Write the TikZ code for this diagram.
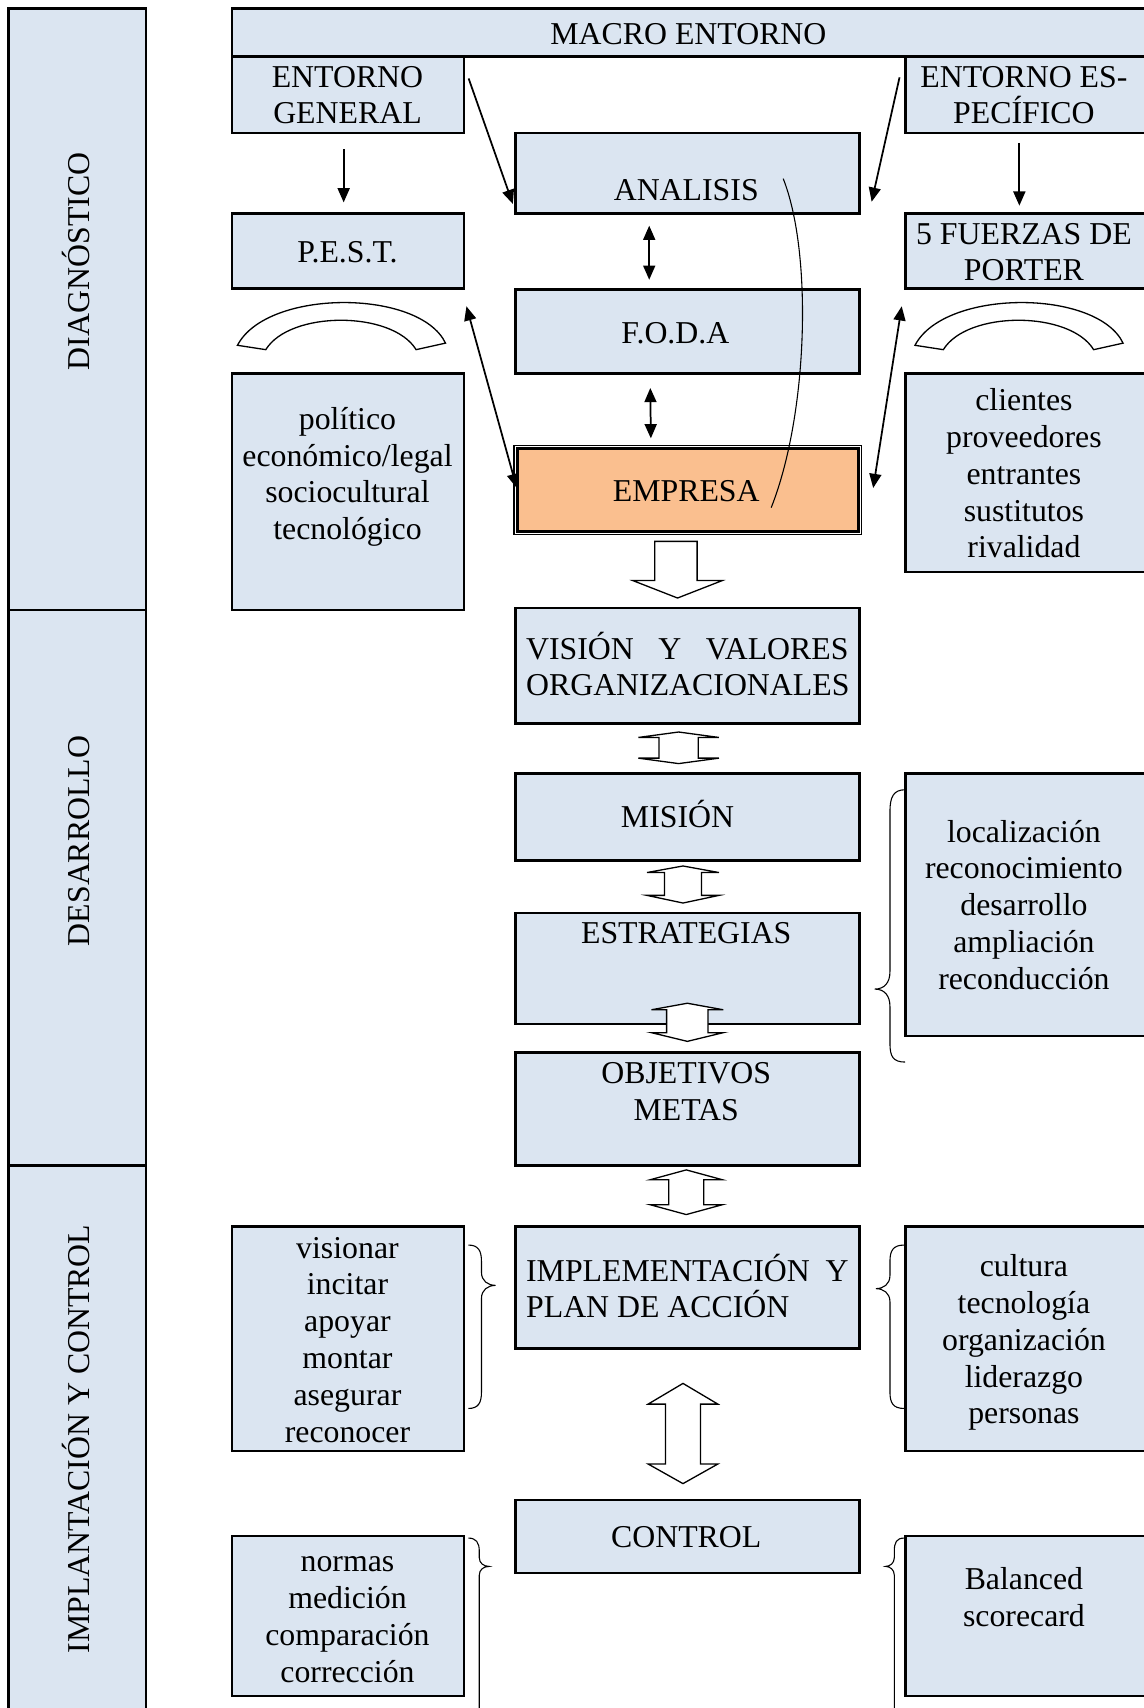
\documentclass[tikz,border=0pt]{standalone}
\usepackage{fontspec}
\setmainfont{Liberation Serif}
\usetikzlibrary{arrows.meta,fit,calc}
\definecolor{boxblue}{HTML}{DBE5F1}
\definecolor{empresaor}{HTML}{FABF8F}
\tikzset{
 box/.style={draw=black, line width=1.2pt, fill=boxblue, inner sep=0pt},
 txt/.style={font=\fontsize{14.6}{16.9}\selectfont, align=center, inner sep=0pt, anchor=base},
 rtxt/.style={font=\fontsize{14.6}{16.9}\selectfont, inner sep=0pt, rotate=90, text height=10pt, text depth=0pt},
 arr/.style={line width=0.8pt, -{Triangle[length=6.5pt,width=5.5pt]}},
 darr/.style={line width=0.8pt, {Triangle[length=6.5pt,width=5.5pt]}-{Triangle[length=6.5pt,width=5.5pt]}},
 blk/.style={draw=black, line width=0.6pt, fill=white, line join=miter},
 brc/.style={draw=black, line width=0.5pt},
}
\newcommand\dblarr[7]{\draw[blk] (#1,#2) -- ({#1+#6},#3) -- ({#1+#7},#3) -- ({#1+#7},#4) -- ({#1+#6},#4) -- (#1,#5) -- ({#1-#6},#4) -- ({#1-#7},#4) -- ({#1-#7},#3) -- ({#1-#6},#3) -- cycle;}

\begin{document}
\begin{tikzpicture}[x=0.5pt,y=-0.5pt]
\useasboundingbox (0,0) rectangle (1050,1568);

% left column
\node[box, fit={(8,8) (134,560)}] (diag) {};
\node[box, fit={(8,560) (134,1070)}] (desa) {};
\node[box, fit={(8,1070) (134,1590)}] (implc) {};
\node[rtxt] (diag-t) at (72,240) {DIAGNÓSTICO};
\node[rtxt] (desa-t) at (72,772) {DESARROLLO};
\node[rtxt] (implc-t) at (72,1321) {IMPLANTACIÓN Y CONTROL};

% top boxes
\node[box, fit={(213,8) (1070,52)}] (macro) {};
\node[box, fit={(213,52) (426,122)}] (eg) {};
\node[box, fit={(831,52) (1070,122)}] (ee) {};
\node[box, fit={(473,122) (789,196)}] (analisis) {};
\node[box, fit={(213,196) (426,265)}] (pest) {};
\node[box, fit={(831,196) (1070,265)}] (porter) {};
\node[box, fit={(473,266) (789,343)}] (foda) {};
\node[box, fit={(213,343) (426,560)}] (politico) {};
\node[box, fit={(831,343) (1070,525)}] (clientes) {};
\node[draw=black, line width=0.6pt, fill=white, inner sep=0pt, fit={(472,409) (791,491)}] (empresa) {};
\node[draw=black, line width=1.2pt, fill=empresaor, inner sep=0pt, fit={(475,412) (788,488)}] (empresain) {};

% (base anchor of a multi-line node = baseline of its last line)
\node[txt] (macro-t) at (632,41) {MACRO ENTORNO};
\node[txt] (eg-t) at (319,113.8) {ENTORNO\\GENERAL};
\node[txt] (ee-t) at (940,113.8) {ENTORNO ES-\\PECÍFICO};
\node[txt] (analisis-t) at (630,184) {ANALISIS};
\node[txt] (pest-t) at (319,241) {P.E.S.T.};
\node[txt] (porter-t) at (940,257.8) {5 FUERZAS DE\\PORTER};
\node[txt] (foda-t) at (620,315) {F.O.D.A};
\node[txt] (politico-t) at (319,495.4) {político\\económico/legal\\sociocultural\\tecnológico};
\node[txt] (clientes-t) at (940,512.2) {clientes\\proveedores\\entrantes\\sustitutos\\rivalidad};
\node[txt] (empresa-t) at (630,460) {EMPRESA};

% arcs
\draw[blk] (218,317) .. controls (245,265) and (385,265) .. (409,315) -- (382,321) .. controls (360,285) and (266,285) .. (244,321) -- cycle;
\draw[blk] (840,317) .. controls (867,265) and (1007,265) .. (1031,315) -- (1004,321) .. controls (982,285) and (888,285) .. (866,321) -- cycle;

% arrows top
\draw[arr] ([shift={(3,-15)}]eg.east) -- ([shift={(-1,-10)}]analisis.south west);
\draw[arr] ([shift={(-4,-16)}]ee.west) -- ([shift={(10,-12)}]analisis.south east);
\draw[arr] ([shift={(-4,14)}]eg.south) -- ([shift={(-4,-9)}]pest.north);
\draw[arr] ([shift={(106,8)}]ee.south west) -- ([shift={(106,-6)}]porter.north west);
\draw[darr] ([shift={(-35,10)}]analisis.south) -- ([shift={(-35,-8)}]foda.north);
\draw[darr] ([shift={(-34,12)}]foda.south) -- ([shift={(-34,-6)}]empresa.north);
\draw[darr] ([shift={(1,15)}]pest.south east) -- ([shift={(3,-2)}]empresa.west);
\draw[darr] ([shift={(-2,15)}]porter.south west) -- ([shift={(10,-2)}]empresa.east);
\draw[line width=0.5pt] ([shift={(88,5)}]analisis.center) .. controls (746,232) and (742,380) .. ([shift={(76.5,16)}]empresa.center);

% middle column
\node[box, fit={(473,558) (789,664)}] (vision) {};
\node[box, fit={(473,710) (789,790)}] (mision) {};
\node[box, fit={(473,838) (789,940)}] (estrategias) {};
\node[box, fit={(473,966) (789,1070)}] (objetivos) {};
\node[box, fit={(473,1126) (789,1238)}] (implementacion) {};
\node[box, fit={(473,1377) (789,1444)}] (control) {};

% (text-width nodes: base anchor = first line)
\node[txt, text width=148pt, align=flush left] (vision-t) at (631,605) {VISIÓN\hfill Y\hfill VALORES\\ORGANIZACIONALES};
\node[txt] (mision-t) at (622,760) {MISIÓN};
\node[txt] (estrategias-t) at (630,866) {ESTRATEGIAS};
\node[txt] (objetivos-t) at (630,1028.8) {OBJETIVOS\\METAS};
\node[txt, text width=148pt, align=flush left] (implementacion-t) at (631,1176) {\makebox[148pt][s]{IMPLEMENTACIÓN\hfill Y}\\PLAN DE ACCIÓN};
\node[txt] (control-t) at (630,1421) {CONTROL};

% side boxes
\node[box, fit={(831,710) (1070,951)}] (localizacion) {};
\node[box, fit={(213,1126) (426,1332)}] (visionar) {};
\node[box, fit={(831,1126) (1070,1332)}] (cultura) {};
\node[box, fit={(213,1410) (426,1557)}] (normas) {};
\node[box, fit={(831,1410) (1070,1557)}] (balanced) {};

\node[txt] (localizacion-t) at (940,908.2) {localización\\reconocimiento\\desarrollo\\ampliación\\reconducción};
\node[txt] (visionar-t) at (319,1324) {visionar\\incitar\\apoyar\\montar\\asegurar\\reconocer};
\node[txt] (cultura-t) at (940,1307.2) {cultura\\tecnología\\organización\\liderazgo\\personas};
\node[txt] (normas-t) at (319,1544.4) {normas\\medición\\comparación\\corrección};
\node[txt] (balanced-t) at (940,1492.8) {Balanced\\scorecard};

% block arrows
\draw[blk] (601,497) -- (640,497) -- (640,533) -- (663,533) -- (622,549) -- (581,533) -- (601,533) -- cycle;
\dblarr{623}{672}{677}{696}{701}{37}{18}
\dblarr{627}{795}{801}{822}{829}{33}{17}
\dblarr{631}{921}{927}{948}{956}{33}{19}
\dblarr{630}{1074}{1083}{1106}{1115}{33}{16}
\dblarr{627}{1270}{1289}{1344}{1362}{32}{16}

% braces
\draw[brc] (831,725) .. controls (820,725) and (817,732) .. (817,745) -- (817,892) .. controls (817,902) and (812,908) .. (803,908) .. controls (812,908) and (817,914) .. (817,924) -- (817,958) .. controls (817,970) and (820,975) .. (831,975);
\draw[brc] (430,1143) .. controls (439,1143) and (442,1148) .. (442,1158) -- (442,1168) .. controls (442,1176) and (448,1180) .. (455,1180) .. controls (448,1180) and (442,1184) .. (442,1192) -- (442,1278) .. controls (442,1288) and (439,1293) .. (430,1293);
\draw[brc] (830,1143) .. controls (820,1143) and (817,1148) .. (817,1158) -- (817,1171) .. controls (817,1179) and (811,1183) .. (804,1183) .. controls (811,1183) and (817,1187) .. (817,1195) -- (817,1278) .. controls (817,1288) and (820,1293) .. (830,1293);
\draw[brc] (430,1412) .. controls (437,1412) and (440,1416) .. (440,1424) -- (440,1430) .. controls (440,1435) and (444,1438) .. (449,1438) .. controls (444,1438) and (440,1441) .. (440,1446) -- (440,1580);
\draw[brc] (830,1412) .. controls (823,1412) and (821,1416) .. (821,1424) -- (821,1430) .. controls (821,1435) and (817,1438) .. (813,1438) .. controls (817,1438) and (821,1441) .. (821,1446) -- (821,1580);
\end{tikzpicture}
\end{document}
